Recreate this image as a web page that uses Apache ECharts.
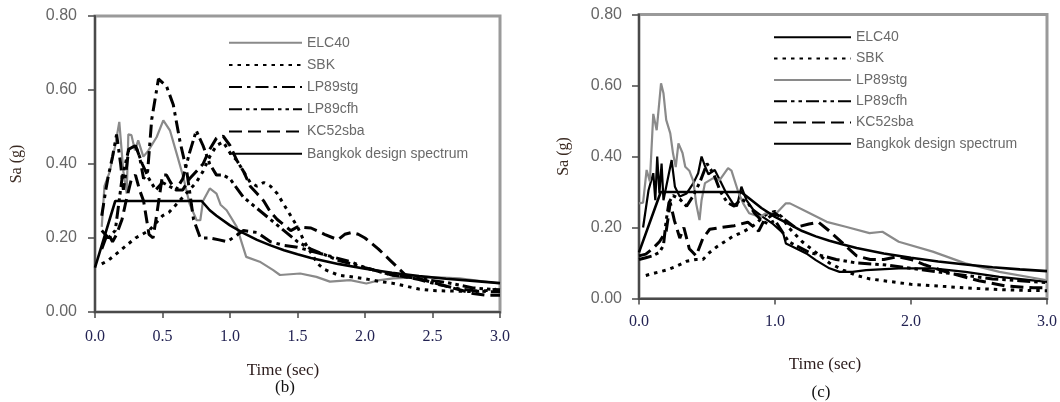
<!DOCTYPE html>
<html>
<head>
<meta charset="utf-8">
<script src="https://cdn.jsdelivr.net/npm/echarts@6/dist/echarts.min.js"></script>
<style>
  html, body { margin: 0; padding: 0; background: #fff; }
  .wrap { position: relative; width: 1060px; height: 402px; }
  .chart { position: absolute; top: 0; width: 530px; height: 402px; }
</style>
</head>
<body>
<div class="wrap">
  <div id="chartB" class="chart" style="left:0"></div>
  <div id="chartC" class="chart" style="left:530px"></div>
</div>
<script>
// series names
const names = ['ELC40', 'SBK', 'LP89stg', 'LP89cfh', 'KC52sba', 'Bangkok design spectrum']

// y ticks (both panels), x ticks
const yTicks = [0, 0.2, 0.4, 0.6, 0.8]
const xTicksB = [0, 0.5, 1.0, 1.5, 2.0, 2.5, 3.0]
const xTicksC = [0, 1.0, 2.0, 3.0]

// ---- panel (b) : [period (s), Sa (g)]
const bElc40 = [[0.05,0.23],[0.07,0.34],[0.11,0.38],[0.15,0.45],[0.18,0.514],[0.21,0.38],[0.235,0.32],[0.247,0.48],[0.27,0.478],[0.296,0.437],[0.32,0.464],[0.358,0.42],[0.395,0.436],[0.457,0.473],[0.506,0.518],[0.556,0.49],[0.605,0.428],[0.654,0.365],[0.70,0.293],[0.753,0.248],[0.78,0.248],[0.80,0.30],[0.85,0.334],[0.90,0.32],[0.93,0.29],[0.975,0.275],[1.05,0.23],[1.12,0.149],[1.22,0.136],[1.32,0.113],[1.37,0.10],[1.52,0.104],[1.64,0.095],[1.74,0.082],[1.89,0.086],[2.01,0.077],[2.11,0.086],[2.21,0.091],[2.46,0.095],[2.70,0.091],[3.0,0.077]]
const bSbk = [[0.05,0.13],[0.1,0.14],[0.15,0.155],[0.2,0.17],[0.25,0.185],[0.3,0.2],[0.35,0.21],[0.4,0.22],[0.45,0.24],[0.5,0.26],[0.55,0.27],[0.6,0.29],[0.65,0.31],[0.7,0.33],[0.75,0.35],[0.8,0.38],[0.85,0.42],[0.9,0.45],[0.95,0.46],[1.0,0.43],[1.05,0.41],[1.1,0.38],[1.15,0.35],[1.2,0.34],[1.25,0.35],[1.3,0.34],[1.35,0.32],[1.4,0.29],[1.45,0.26],[1.5,0.23],[1.55,0.19],[1.6,0.16],[1.65,0.13],[1.7,0.115],[1.8,0.10],[1.9,0.095],[2.0,0.09],[2.1,0.083],[2.2,0.078],[2.3,0.07],[2.4,0.062],[2.5,0.058],[2.6,0.057],[2.7,0.056],[2.8,0.055],[2.9,0.058],[3.0,0.063]]
const bLp89stg = [[0.05,0.26],[0.08,0.33],[0.1,0.37],[0.13,0.42],[0.16,0.48],[0.19,0.40],[0.21,0.33],[0.23,0.38],[0.25,0.44],[0.28,0.44],[0.3,0.45],[0.33,0.42],[0.36,0.36],[0.39,0.38],[0.42,0.52],[0.47,0.63],[0.53,0.61],[0.58,0.56],[0.63,0.46],[0.68,0.38],[0.73,0.25],[0.78,0.20],[0.85,0.20],[0.92,0.195],[0.98,0.19],[1.02,0.20],[1.1,0.22],[1.2,0.215],[1.3,0.19],[1.4,0.18],[1.5,0.175],[1.6,0.165],[1.7,0.155],[1.8,0.145],[1.9,0.135],[2.0,0.12],[2.1,0.11],[2.2,0.10],[2.3,0.095],[2.4,0.088],[2.5,0.078],[2.6,0.07],[2.7,0.062],[2.8,0.058],[2.9,0.055],[3.0,0.055]]
const bLp89cfh = [[0.05,0.22],[0.1,0.20],[0.15,0.22],[0.2,0.36],[0.25,0.44],[0.3,0.45],[0.35,0.40],[0.4,0.36],[0.45,0.33],[0.5,0.35],[0.55,0.34],[0.6,0.33],[0.65,0.36],[0.7,0.43],[0.75,0.49],[0.8,0.45],[0.85,0.40],[0.9,0.37],[0.95,0.37],[1.0,0.36],[1.1,0.31],[1.2,0.28],[1.3,0.25],[1.4,0.22],[1.5,0.19],[1.6,0.17],[1.7,0.155],[1.8,0.14],[1.9,0.13],[2.0,0.12],[2.2,0.10],[2.4,0.09],[2.6,0.08],[2.8,0.065],[3.0,0.06]]
const bKc52sba = [[0.05,0.17],[0.08,0.20],[0.1,0.21],[0.13,0.19],[0.16,0.21],[0.2,0.25],[0.23,0.30],[0.27,0.36],[0.3,0.37],[0.33,0.33],[0.36,0.30],[0.4,0.21],[0.43,0.20],[0.46,0.27],[0.5,0.37],[0.53,0.37],[0.56,0.35],[0.6,0.33],[0.65,0.33],[0.7,0.36],[0.75,0.38],[0.8,0.40],[0.85,0.44],[0.9,0.47],[0.95,0.475],[1.0,0.45],[1.05,0.41],[1.1,0.38],[1.15,0.34],[1.2,0.32],[1.25,0.30],[1.3,0.27],[1.35,0.25],[1.4,0.235],[1.45,0.22],[1.5,0.23],[1.6,0.227],[1.7,0.21],[1.8,0.195],[1.85,0.21],[1.9,0.215],[1.95,0.21],[2.0,0.20],[2.1,0.17],[2.2,0.135],[2.3,0.10],[2.4,0.09],[2.5,0.08],[2.6,0.07],[2.7,0.06],[2.8,0.05],[2.9,0.045],[3.0,0.045]]
const bDesign = [[0,0.12],[0.15,0.30],[0.79,0.30],[0.85,0.275],[0.9,0.26],[1.0,0.234],[1.1,0.213],[1.2,0.195],[1.3,0.18],[1.4,0.167],[1.5,0.156],[1.6,0.146],[1.8,0.13],[2.0,0.117],[2.2,0.106],[2.4,0.097],[2.6,0.09],[2.8,0.084],[3.0,0.078]]

// ---- panel (c)
const cElc40 = [[0.03,0.20],[0.07,0.305],[0.105,0.353],[0.12,0.277],[0.134,0.40],[0.15,0.296],[0.166,0.38],[0.18,0.277],[0.24,0.39],[0.264,0.315],[0.30,0.287],[0.35,0.296],[0.40,0.325],[0.435,0.353],[0.46,0.40],[0.487,0.371],[0.51,0.35],[0.557,0.362],[0.594,0.334],[0.643,0.296],[0.69,0.268],[0.72,0.26],[0.753,0.315],[0.79,0.277],[0.84,0.25],[0.91,0.23],[0.985,0.21],[1.06,0.184],[1.08,0.155],[1.13,0.146],[1.23,0.127],[1.3,0.108],[1.40,0.085],[1.475,0.075],[1.57,0.075],[1.67,0.08],[1.91,0.085],[2.16,0.085],[2.40,0.075],[2.65,0.061],[3.0,0.047]]
const cSbk = [[0.05,0.065],[0.1,0.07],[0.2,0.08],[0.27,0.09],[0.35,0.105],[0.42,0.11],[0.47,0.11],[0.52,0.13],[0.57,0.145],[0.63,0.16],[0.69,0.175],[0.75,0.185],[0.8,0.195],[0.86,0.21],[0.91,0.23],[0.95,0.24],[1.0,0.245],[1.05,0.23],[1.1,0.20],[1.15,0.18],[1.2,0.16],[1.3,0.13],[1.4,0.10],[1.5,0.08],[1.6,0.065],[1.7,0.055],[1.8,0.05],[1.9,0.045],[2.0,0.04],[2.2,0.035],[2.4,0.03],[2.6,0.026],[2.8,0.023],[3.0,0.022]]
const cLp89stg = [[0.0,0.268],[0.03,0.27],[0.056,0.362],[0.08,0.33],[0.105,0.52],[0.13,0.474],[0.162,0.606],[0.18,0.578],[0.2,0.503],[0.23,0.465],[0.25,0.409],[0.27,0.37],[0.29,0.437],[0.32,0.41],[0.34,0.371],[0.37,0.36],[0.40,0.33],[0.42,0.268],[0.445,0.221],[0.46,0.277],[0.485,0.325],[0.545,0.339],[0.594,0.334],[0.655,0.367],[0.68,0.36],[0.73,0.30],[0.766,0.268],[0.81,0.24],[0.89,0.23],[0.93,0.24],[1.01,0.24],[1.08,0.268],[1.11,0.268],[1.23,0.245],[1.38,0.216],[1.52,0.202],[1.695,0.184],[1.79,0.188],[1.91,0.16],[2.16,0.132],[2.40,0.099],[2.65,0.075],[2.99,0.052]]
const cLp89cfh = [[0.0,0.11],[0.05,0.115],[0.1,0.12],[0.15,0.13],[0.18,0.15],[0.2,0.22],[0.22,0.27],[0.25,0.29],[0.3,0.28],[0.35,0.26],[0.4,0.29],[0.45,0.33],[0.5,0.38],[0.55,0.35],[0.6,0.30],[0.65,0.27],[0.7,0.26],[0.75,0.28],[0.8,0.27],[0.85,0.24],[0.9,0.22],[0.95,0.21],[1.0,0.22],[1.05,0.19],[1.1,0.16],[1.15,0.15],[1.25,0.13],[1.35,0.12],[1.45,0.11],[1.6,0.10],[1.8,0.095],[2.0,0.085],[2.2,0.075],[2.4,0.065],[2.6,0.055],[2.8,0.05],[3.0,0.045]]
const cKc52sba = [[0.0,0.12],[0.05,0.125],[0.1,0.14],[0.15,0.16],[0.2,0.19],[0.23,0.27],[0.26,0.22],[0.3,0.17],[0.33,0.20],[0.37,0.14],[0.42,0.12],[0.47,0.17],[0.52,0.195],[0.6,0.20],[0.7,0.205],[0.8,0.215],[0.88,0.19],[0.92,0.22],[1.0,0.24],[1.08,0.22],[1.15,0.20],[1.25,0.21],[1.32,0.215],[1.4,0.19],[1.5,0.155],[1.6,0.12],[1.7,0.11],[1.8,0.11],[1.9,0.118],[2.0,0.11],[2.1,0.095],[2.3,0.07],[2.5,0.05],[2.7,0.035],[2.9,0.03],[3.0,0.03]]
const cDesign = [[0,0.13],[0.16,0.30],[0.75,0.30],[0.8,0.285],[0.9,0.255],[1.0,0.23],[1.1,0.21],[1.2,0.19],[1.3,0.175],[1.4,0.163],[1.5,0.152],[1.6,0.142],[1.8,0.127],[2.0,0.115],[2.2,0.104],[2.4,0.096],[2.6,0.088],[2.8,0.082],[3.0,0.077]]

const sans = 'Liberation Sans, Arial, sans-serif'
const serif = 'Liberation Serif, Times New Roman, serif'

// line styles
const st = {
  gray: { color: '#8a8a8a', width: 2.2, type: 'solid' },
  solid: { color: '#000', width: 2.2, type: 'solid' },
  thick: { color: '#000', width: 2.6, type: 'solid' },
  dot: { color: '#000', width: 3, type: [3.5, 5] },
  dashDot: { color: '#000', width: 3, type: [13, 5, 3.5, 5] },
  dashDotDot: { color: '#000', width: 3, type: [13, 4, 3.5, 4, 3.5, 4] },
  dash: { color: '#000', width: 3, type: [13, 6] }
}

const makeSeries = (data, style) => ({
  type: 'line',
  data: data,
  showSymbol: false,
  symbol: 'none',
  lineStyle: style,
  itemStyle: { color: style.color }
})

const buildOption = (cfg) => ({
  animation: false,
  grid: {
    left: cfg.grid[0], top: cfg.grid[1], right: cfg.grid[2], bottom: cfg.grid[3],
    show: true, borderColor: '#9a9a9a', borderWidth: 3
  },
  legend: {
    orient: 'vertical',
    left: cfg.legend[0],
    top: cfg.legend[1],
    itemWidth: cfg.legend[2],
    itemHeight: 14,
    itemGap: cfg.legend[3],
    selectedMode: false,
    itemStyle: { opacity: 0, borderWidth: 0 },
    textStyle: { fontFamily: sans, fontSize: 14, color: '#6a6a6a', lineHeight: 14 },
    data: names
  },
  xAxis: {
    type: 'value',
    min: cfg.xTicks[0],
    max: cfg.xTicks[cfg.xTicks.length - 1],
    interval: cfg.xTicks[1] - cfg.xTicks[0],
    splitLine: { show: false },
    axisLine: { lineStyle: { color: '#4a4a4a', width: 2 } },
    axisTick: { length: 6, lineStyle: { color: '#4a4a4a', width: 1.5 } },
    axisLabel: {
      margin: cfg.xLabelMargin,
      fontFamily: serif, fontSize: 16, color: '#232353',
      formatter: (v) => v.toFixed(1)
    }
  },
  yAxis: {
    type: 'value',
    min: yTicks[0],
    max: yTicks[yTicks.length - 1],
    interval: yTicks[1] - yTicks[0],
    splitLine: { show: false },
    axisLine: { show: true, lineStyle: { color: '#4a4a4a', width: 2 } },
    axisTick: { show: true, length: 7, lineStyle: { color: '#4a4a4a', width: 1.5 } },
    axisLabel: {
      margin: cfg.yLabelMargin,
      fontFamily: sans, fontSize: 16, color: '#666',
      formatter: (v) => v.toFixed(2)
    },
    name: 'Sa (g)',
    nameLocation: 'middle',
    nameGap: cfg.yNameGap,
    nameTextStyle: { fontFamily: serif, fontSize: 16, color: '#3a2a22' }
  },
  graphic: [
    {
      type: 'text', x: cfg.title[0], y: cfg.title[1],
      style: { text: 'Time (sec)', textAlign: 'center', textVerticalAlign: 'middle', fontFamily: serif, fontSize: 17, fill: '#2a1a1a' }
    },
    {
      type: 'text', x: cfg.tag[0], y: cfg.tag[1],
      style: { text: cfg.tag[2], textAlign: 'center', textVerticalAlign: 'middle', fontFamily: serif, fontSize: 17, fill: '#111' }
    }
  ],
  series: cfg.series.map((s, i) => Object.assign(makeSeries(s[0], s[1]), { name: names[i] }))
})

const optionB = buildOption({
  grid: [95, 16, 30, 90],
  legend: [223, 30.7, 73, 8.2],
  xTicks: xTicksB,
  xLabelMargin: 17,
  yLabelMargin: 18,
  yNameGap: 70,
  title: [283, 371],
  tag: [285, 388, '(b)'],
  series: [
    [bElc40, st.gray],
    [bSbk, st.dot],
    [bLp89stg, st.dashDot],
    [bLp89cfh, st.dashDotDot],
    [bKc52sba, st.dash],
    [bDesign, st.thick]
  ]
})

const optionC = buildOption({
  grid: [109, 14.5, 12, 103.5],
  legend: [238, 25.3, 77, 7.3],
  xTicks: xTicksC,
  xLabelMargin: 15,
  yLabelMargin: 17,
  yNameGap: 67,
  title: [295, 365],
  tag: [291, 393, '(c)'],
  series: [
    [cElc40, st.solid],
    [cSbk, st.dot],
    [cLp89stg, st.gray],
    [cLp89cfh, st.dashDotDot],
    [cKc52sba, st.dash],
    [cDesign, st.thick]
  ]
})

const chartB = echarts.init(document.getElementById('chartB'))
chartB.setOption(optionB)
const chartC = echarts.init(document.getElementById('chartC'))
chartC.setOption(optionC)
</script>
</body>
</html>
